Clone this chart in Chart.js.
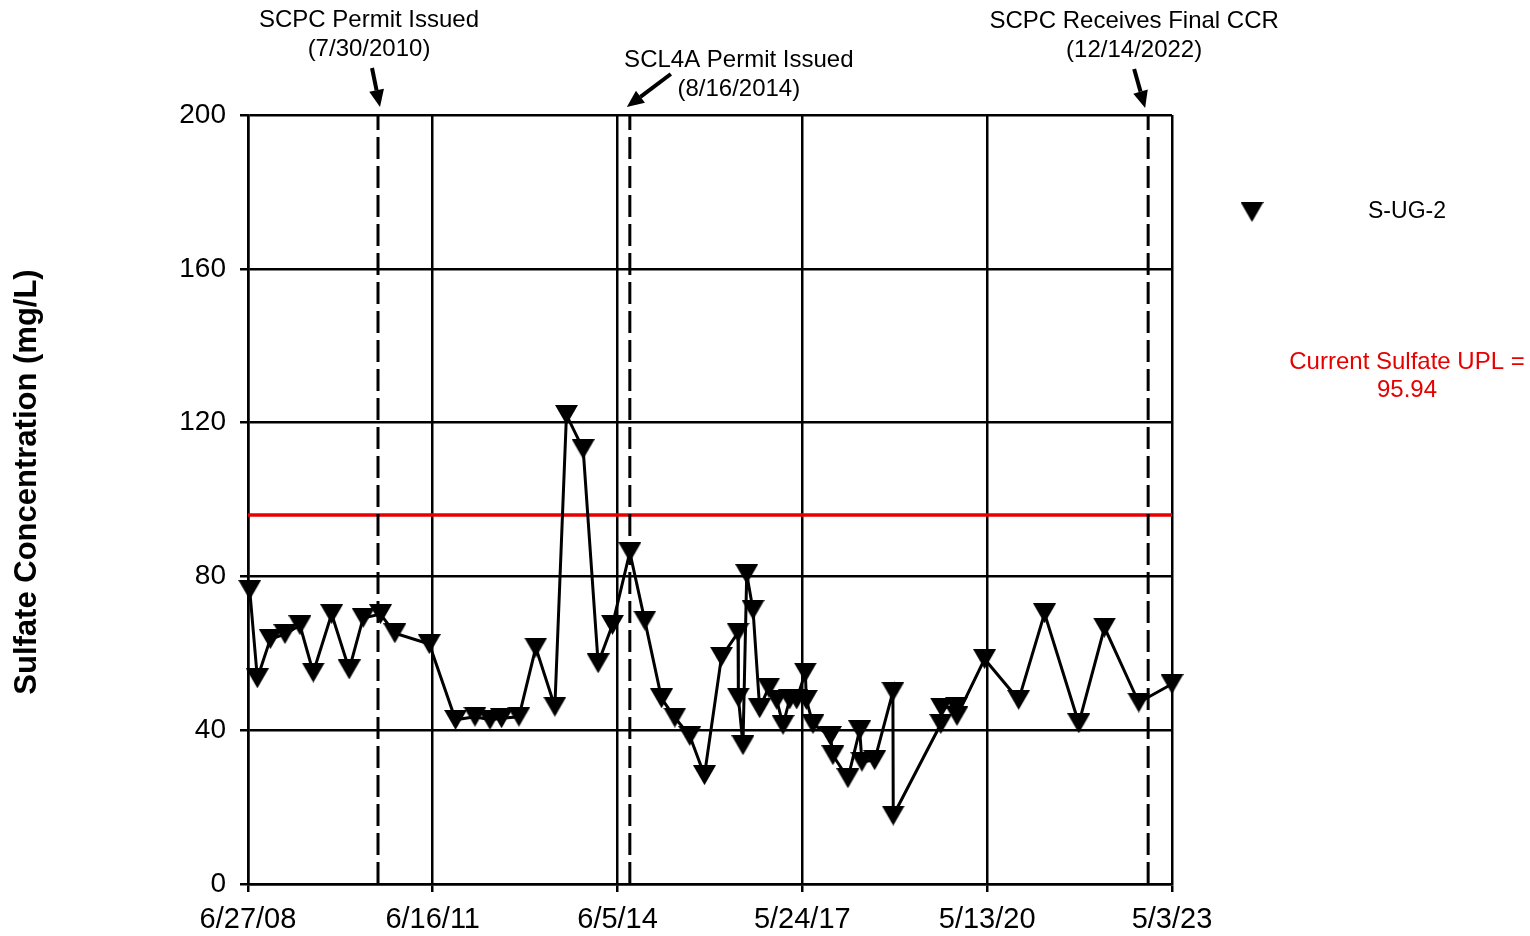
<!DOCTYPE html>
<html>
<head>
<meta charset="utf-8">
<script src="https://cdn.jsdelivr.net/npm/chart.js@4.4.0/dist/chart.umd.min.js"></script>
<style>
  html, body { margin: 0; padding: 0; background: #fff; }
  canvas { display: block; }
</style>
</head>
<body>
<canvas id="chart" width="1530" height="936"></canvas>
<script>
// ---- data ----
const tickLabels = ['6/27/08', '6/16/11', '6/5/14', '5/24/17', '5/13/20', '5/3/23'];
const yTickValues = [0, 40, 80, 120, 160, 200];

const seriesName = 'S-UG-2';
const sampleDates = [
  '2008-07-07', '2008-08-21', '2008-11-05', '2009-01-30', '2009-04-28', '2009-07-15',
  '2009-10-31', '2010-02-11', '2010-05-04', '2010-08-14', '2010-11-06', '2011-05-27',
  '2011-10-28', '2012-02-19', '2012-05-17', '2012-07-24', '2012-11-03', '2013-02-10',
  '2013-06-02', '2013-08-09', '2013-11-15', '2014-02-11', '2014-05-06', '2014-08-16',
  '2014-11-12', '2015-02-18', '2015-05-07', '2015-08-03', '2015-10-28', '2016-02-05',
  '2016-05-12', '2016-05-14', '2016-06-10', '2016-07-02', '2016-08-08', '2016-09-16',
  '2016-11-08', '2016-12-25', '2017-01-31', '2017-03-11', '2017-04-21', '2017-06-11',
  '2017-06-17', '2017-07-26', '2017-11-05', '2017-11-20', '2018-02-16', '2018-04-26',
  '2018-05-09', '2018-07-23', '2018-11-07', '2018-11-09', '2019-08-15', '2019-08-19',
  '2019-11-14', '2019-11-18', '2020-04-28', '2020-11-14', '2021-04-15', '2021-11-02',
  '2022-04-02', '2022-10-20', '2023-05-03'
];
const sulfate = [
  76.5, 53.5, 63.7, 65.0, 67.3, 55.0,
  70.2, 55.8, 69.2, 70.2, 65.2, 62.4,
  42.7, 43.5, 42.7, 43.1, 43.5, 61.5,
  46.1, 122.0, 113.1, 57.4, 67.4, 86.3,
  68.5, 48.3, 43.3, 38.5, 28.3, 59.1,
  65.4, 48.5, 36.1, 80.6, 71.3, 45.7,
  51.1, 47.9, 41.4, 48.0, 48.0, 55.0,
  47.9, 41.6, 38.5, 33.5, 27.5, 40.0,
  31.8, 32.2, 50.0, 17.8, 41.6, 45.9,
  46.1, 43.7, 58.5, 47.9, 70.4, 41.8,
  66.7, 47.2, 52.0
];

const uplValue = 95.94;
const uplLabel = ['Current Sulfate UPL =', '95.94'];

const eventDates = ['7/30/2010', '8/16/2014', '12/14/2022'];
const eventLabels = [
  ['SCPC Permit Issued', '(7/30/2010)'],
  ['SCL4A Permit Issued', '(8/16/2014)'],
  ['SCPC Receives Final CCR', '(12/14/2022)']
];

const yTitle = 'Sulfate Concentration (mg/L)';

// ---- date helpers: x axis is measured in days from the first tick ----
const DAY = 86400000;
function mdyToUTC(s) {
  const [m, d, y] = s.split('/').map(Number);
  return Date.UTC(y < 100 ? 2000 + y : y, m - 1, d);
}
function isoToUTC(s) {
  const [y, m, d] = s.split('-').map(Number);
  return Date.UTC(y, m - 1, d);
}
const ORIGIN = mdyToUTC(tickLabels[0]);
const dayOf = utc => (utc - ORIGIN) / DAY;
const tickDays = tickLabels.map(l => dayOf(mdyToUTC(l)));
const eventDays = eventDates.map(l => dayOf(mdyToUTC(l)));
const xMin = tickDays[0];
const xMax = tickDays[tickDays.length - 1];

const seriesPoints = sampleDates.map((d, i) => ({ x: dayOf(isoToUTC(d)), y: sulfate[i] }));

// downward-pointing filled triangle marker
function makeMarker(w, h) {
  const c = document.createElement('canvas');
  c.width = w; c.height = h;
  const g = c.getContext('2d');
  g.fillStyle = '#000';
  g.beginPath();
  g.moveTo(0, 0);
  g.lineTo(w, 0);
  g.lineTo(w / 2, h);
  g.closePath();
  g.fill();
  return c;
}
const marker = makeMarker(23, 20);

const FONT = '"Liberation Sans", Arial, Helvetica, sans-serif';

// ---- datasets ----
const datasets = [
  {
    label: 'UPL',
    data: [{ x: xMin, y: uplValue }, { x: xMax, y: uplValue }],
    borderColor: '#e60000',
    borderWidth: 3.5,
    pointRadius: 0,
    order: 3
  },
  ...eventDays.map((d, i) => ({
    label: 'event' + i,
    data: [{ x: d, y: 0 }, { x: d, y: 200 }],
    borderColor: '#000',
    borderWidth: 3,
    borderDash: [22, 7],
    pointRadius: 0,
    order: 2
  })),
  {
    label: seriesName,
    data: seriesPoints,
    borderColor: '#000',
    borderWidth: 3,
    pointStyle: marker,
    pointRadius: 10,
    clip: false,
    order: 1
  }
];

// ---- annotations, legend and axis title ----
const decorations = {
  id: 'decorations',
  afterDraw(chart) {
    const ctx = chart.ctx;
    const xs = chart.scales.x;
    const top = chart.chartArea.top;
    ctx.save();

    // axis title
    ctx.save();
    ctx.translate(27, 482);
    ctx.rotate(-Math.PI / 2);
    ctx.fillStyle = '#000';
    ctx.font = 'bold 31px ' + FONT;
    ctx.textAlign = 'center';
    ctx.textBaseline = 'middle';
    ctx.fillText(yTitle, 0, 0);
    ctx.restore();

    // event labels with arrows
    const layout = [
      { dx: -9, ty: 20, from: [-6, -47], to: [2, -8] },
      { dx: 109, ty: 60, from: [41, -41], to: [-3, -8] },
      { dx: -14, ty: 21, from: [-14, -46], to: [-3, -7] }
    ];
    ctx.font = '24px ' + FONT;
    ctx.textAlign = 'center';
    ctx.textBaseline = 'middle';
    ctx.fillStyle = '#000';
    eventDays.forEach((d, i) => {
      const lx = xs.getPixelForValue(d);
      const L = layout[i];
      ctx.fillText(eventLabels[i][0], lx + L.dx, L.ty);
      ctx.fillText(eventLabels[i][1], lx + L.dx, L.ty + 29);
      drawArrow(ctx, lx + L.from[0], top + L.from[1], lx + L.to[0], top + L.to[1]);
    });

    // legend
    ctx.drawImage(marker, 1252 - marker.width / 2, 212 - marker.height / 2);
    ctx.font = '23px ' + FONT;
    ctx.fillText(seriesName, 1407, 212);

    // UPL note
    ctx.fillStyle = '#e60000';
    ctx.font = '24px ' + FONT;
    ctx.fillText(uplLabel[0], 1407, 362);
    ctx.fillText(uplLabel[1], 1407, 390);

    ctx.restore();
  }
};

function drawArrow(ctx, x1, y1, x2, y2) {
  const ang = Math.atan2(y2 - y1, x2 - x1);
  const headLen = 17, headW = 7.5;
  const bx = x2 - Math.cos(ang) * headLen;
  const by = y2 - Math.sin(ang) * headLen;
  ctx.save();
  ctx.strokeStyle = '#000';
  ctx.fillStyle = '#000';
  ctx.lineWidth = 4;
  ctx.beginPath();
  ctx.moveTo(x1, y1);
  ctx.lineTo(bx, by);
  ctx.stroke();
  ctx.beginPath();
  ctx.moveTo(x2, y2);
  ctx.lineTo(bx + Math.sin(ang) * headW, by - Math.cos(ang) * headW);
  ctx.lineTo(bx - Math.sin(ang) * headW, by + Math.cos(ang) * headW);
  ctx.closePath();
  ctx.fill();
  ctx.restore();
}

new Chart(document.getElementById('chart'), {
  type: 'line',
  data: { datasets },
  options: {
    responsive: false,
    animation: false,
    devicePixelRatio: 1,
    layout: { padding: { left: 0, top: 115, right: 358, bottom: 0 } },
    plugins: { legend: { display: false }, tooltip: { enabled: false } },
    elements: { line: { tension: 0 } },
    scales: {
      x: {
        type: 'linear',
        min: xMin,
        max: xMax,
        afterBuildTicks(scale) { scale.ticks = tickDays.map(v => ({ value: v })); },
        afterFit(scale) { scale.height = 52; },
        ticks: {
          callback: (v, i) => tickLabels[i],
          color: '#000',
          font: { family: FONT, size: 29 },
          padding: 11,
          maxRotation: 0,
          autoSkip: false
        },
        grid: { color: '#000', lineWidth: 2.5, tickLength: 8 },
        border: { color: '#000', width: 2.5 }
      },
      y: {
        min: 0,
        max: 200,
        afterBuildTicks(scale) { scale.ticks = yTickValues.map(v => ({ value: v })); },
        afterFit(scale) { scale.width = 248; },
        ticks: {
          color: '#000',
          font: { family: FONT, size: 28 },
          padding: 14
        },
        grid: { color: '#000', lineWidth: 2.5, tickLength: 8 },
        border: { color: '#000', width: 2.5 }
      }
    }
  },
  plugins: [decorations]
});
</script>
</body>
</html>
